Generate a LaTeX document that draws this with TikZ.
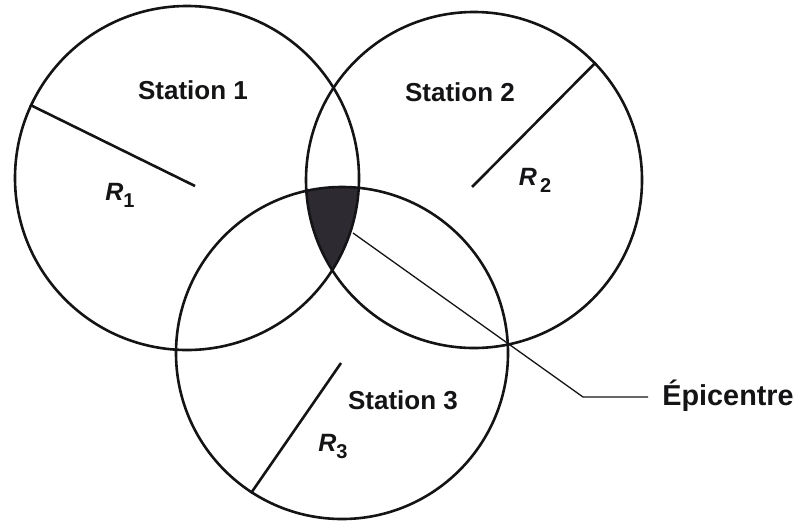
\documentclass[tikz,border=0pt]{standalone}
\usepackage{fontspec}
\setmainfont{Liberation Sans}
\usetikzlibrary{positioning}
\definecolor{QuakeInk}{RGB}{20,20,22}
\definecolor{QuakeShade}{RGB}{46,42,50}
\newcommand{\radlabel}[2]{R\raisebox{-3.5pt}{\upshape\fontsize{10}{12}\selectfont#1#2}}

\begin{document}
\begin{tikzpicture}[x=0.5pt,y=-0.5pt,
  zone/.style={draw=QuakeInk,circle,line width=1.3pt,inner sep=0pt},
  radius line/.style={draw=QuakeInk,line width=1.3pt},
  pointer/.style={draw=QuakeInk,line width=0.65pt},
  lbl/.style={text=QuakeInk,font=\fontsize{13}{15}\selectfont\bfseries},
  rlbl/.style={text=QuakeInk,font=\fontsize{12.5}{14}\selectfont\bfseries\itshape}]
  \useasboundingbox (0,0) rectangle (795,520);
  \coordinate (c1) at (187,178);
  \coordinate (c2) at (474,180);
  \coordinate (c3) at (342,353);
  % common zone of the three circles
  \begin{scope}
    \clip (c1) circle[radius=86pt];
    \clip (c2) circle[radius=84pt];
    \fill[QuakeShade] (c3) circle[radius=83pt];
  \end{scope}
  \node[zone,minimum size=172pt] (station1) at (c1) {};
  \node[zone,minimum size=168pt] (station2) at (c2) {};
  \node[zone,minimum size=166pt] (station3) at (c3) {};
  \node[lbl] (name1) at (193,90) {Station 1};
  \node[lbl] (name2) at (460,92) {Station 2};
  \node[lbl] (name3) at (403,400) {Station 3};
  \coordinate (r1end) at (195,186);
  \coordinate (r2end) at (472,187);
  \coordinate (r3end) at (341,363);
  \draw[radius line] (station1.155) -- (r1end);
  \draw[radius line] (station2.44) -- (r2end);
  \draw[radius line] (station3.237) -- (r3end);
  \node[rlbl] (rad1) at (120,195) {\radlabel{}{1}};
  \node[rlbl] (rad2) at (535,180) {\radlabel{\,}{2}};
  \node[rlbl] (rad3) at (333,446) {\radlabel{}{3}};
  % pointer to the epicentre
  \coordinate (epi) at (353,233);
  \coordinate (bend) at (583,397);
  \node[lbl,font=\fontsize{14.4}{16}\selectfont\bfseries,inner xsep=7pt,anchor=west] (epilabel) at (648,396) {Épicentre};
  \draw[pointer] (epi) -- (bend) -- (epilabel.west |- bend);
\end{tikzpicture}
\end{document}
